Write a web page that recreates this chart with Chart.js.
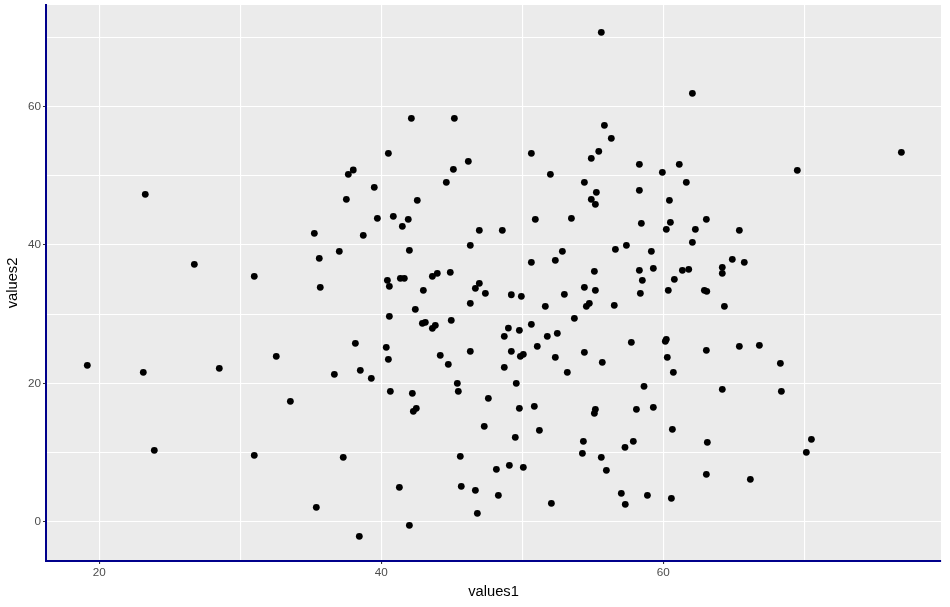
<!DOCTYPE html>
<html>
<head>
<meta charset="utf-8">
<script src="https://cdn.jsdelivr.net/npm/chart.js@4/dist/chart.umd.min.js"></script>
<style>
html,body{margin:0;padding:0;background:#fff;}
#wrap{width:950px;height:607px;}
</style>
</head>
<body>
<div id="wrap"><canvas id="c" width="950" height="607"></canvas></div>
<script>
const values1 = [23.26,26.74,30.99,19.15,23.12,28.51,32.55,23.90,30.99,42.13,45.18,40.50,46.17,38.01,37.66,45.11,39.50,44.61,55.60,62.06,55.82,56.31,50.64,55.42,54.89,58.30,61.13,51.99,59.93,54.40,61.63,55.25,58.30,69.50,76.88,37.52,42.55,39.72,40.85,41.91,41.49,35.25,38.72,46.95,48.58,46.31,37.02,41.99,35.60,44.89,43.97,43.62,40.43,41.35,41.63,40.57,35.67,46.95,46.67,42.98,47.38,46.31,42.41,40.57,42.91,43.12,44.96,43.83,43.62,38.16,40.35,46.31,44.18,40.50,44.75,36.67,38.51,39.29,54.89,55.18,60.43,50.92,53.48,63.05,58.44,60.50,60.21,62.27,62.06,56.60,57.38,52.84,59.15,50.64,52.34,55.11,58.30,59.29,61.35,61.80,64.18,64.18,58.51,60.78,54.40,55.18,49.22,49.93,52.98,58.37,60.35,62.91,63.08,51.63,54.54,54.75,56.52,53.69,49.01,49.79,50.64,48.72,51.77,52.48,51.06,57.73,60.14,60.21,49.22,49.86,50.07,52.34,54.40,55.67,60.28,63.05,48.72,53.19,60.71,65.39,64.89,65.74,64.33,65.39,66.81,68.30,33.55,40.64,42.20,45.39,45.46,47.59,42.27,42.48,47.30,37.30,45.60,48.16,41.28,45.67,46.67,48.30,35.39,46.81,41.99,38.44,49.57,58.63,49.79,50.85,55.18,55.11,58.09,59.29,51.21,49.50,60.64,63.12,54.33,54.26,57.28,57.87,55.60,49.08,50.07,55.96,63.05,52.06,57.02,57.30,58.87,60.57,64.18,68.37,70.50,70.14,66.17];
const values2 = [47.32,37.21,35.48,22.63,21.62,22.19,23.93,10.35,9.63,58.30,58.30,53.24,52.09,50.83,50.21,50.93,48.33,49.05,70.71,61.91,57.29,55.41,53.24,53.53,52.52,51.65,51.65,50.21,50.50,49.05,49.05,47.61,47.90,50.79,53.39,46.60,46.45,43.86,44.14,43.71,42.70,41.69,41.40,42.12,42.12,39.96,39.09,39.23,38.08,36.06,35.91,35.48,34.90,35.19,35.19,34.04,33.89,34.47,33.75,33.46,33.03,31.58,30.71,29.70,28.69,28.84,29.13,28.40,27.97,25.81,25.23,24.65,24.07,23.49,22.77,21.33,21.91,20.75,46.60,45.88,46.45,43.71,43.86,43.71,43.13,43.28,42.27,42.27,40.39,39.38,39.96,39.09,39.09,37.50,37.79,36.20,36.35,36.64,36.35,36.49,36.78,35.91,34.90,35.05,33.89,33.46,32.82,32.59,32.88,33.03,33.46,33.46,33.31,31.15,31.15,31.58,31.29,29.42,28.01,27.68,28.55,26.82,26.82,27.25,25.37,25.95,26.09,26.38,24.65,23.93,24.22,23.78,24.51,23.06,23.78,24.79,22.34,21.62,21.62,42.12,37.94,37.50,31.15,25.37,25.52,22.92,17.43,18.87,18.58,20.03,18.87,17.86,15.99,16.42,13.82,9.34,9.49,7.61,5.01,5.16,4.58,3.86,2.12,1.26,-0.48,-2.06,20.03,19.60,16.42,16.71,16.27,15.70,16.27,16.56,13.24,12.23,13.39,11.51,11.65,9.92,10.79,11.65,9.34,8.19,7.90,7.47,6.89,2.70,4.14,2.56,3.86,3.42,19.16,18.87,11.94,10.06,6.17];
const xGridValues = [20,30,40,50,60,70];
const yGridValues = [0,10,20,30,40,50,60,70];
const xTickLabels = [20,40,60];
const yTickLabels = [0,20,40,60];
const xTitle = 'values1';
const yTitle = 'values2';

const points = values1.map((v,i)=>({x:v,y:values2[i]}));

const panelBg = {
  id:'panelBg',
  beforeDraw(chart){
    const {ctx, chartArea:a} = chart;
    ctx.save();
    ctx.fillStyle='#ffffff';
    ctx.fillRect(0,0,chart.width,chart.height);
    ctx.fillStyle='#EBEBEB';
    ctx.fillRect(a.left,a.top,a.right-a.left,a.bottom-a.top);
    ctx.restore();
  }
};

const tickFont = {family:'"Liberation Sans", Arial, sans-serif', size:11.7};
const titleFont = {family:'"Liberation Sans", Arial, sans-serif', size:14.7};

new Chart(document.getElementById('c'),{
  type:'scatter',
  data:{datasets:[{data:points,backgroundColor:'#000',borderWidth:0,pointRadius:3.4,pointHoverRadius:3.4}]},
  options:{
    responsive:false,
    animation:false,
    events:[],
    layout:{padding:{top:5,right:9,left:0,bottom:0}},
    plugins:{legend:{display:false},tooltip:{enabled:false}},
    scales:{
      x:{
        type:'linear',min:16.22,max:79.69,
        afterBuildTicks:(s)=>{s.ticks=xGridValues.map(v=>({value:v}));},
        afterFit:(s)=>{s.height=46;s.paddingLeft=0;s.paddingRight=0;},
        ticks:{color:'#4D4D4D',font:tickFont,padding:2,maxRotation:0,autoSkip:false,
          callback:(v)=>xTickLabels.includes(v)?String(v):''},
        grid:{color:'#ffffff',lineWidth:1.1,tickLength:3,
          tickColor:(c)=>c.tick && xTickLabels.includes(c.tick.value)?'#333333':'rgba(0,0,0,0)'},
        border:{display:true,color:'#00008B',width:2},
        title:{display:true,text:xTitle,color:'#000',font:titleFont,padding:{top:2,bottom:6}}
      },
      y:{
        type:'linear',min:-5.63,max:74.66,
        afterBuildTicks:(s)=>{s.ticks=yGridValues.map(v=>({value:v}));},
        afterFit:(s)=>{s.width=46;s.paddingTop=0;s.paddingBottom=0;},
        ticks:{color:'#4D4D4D',font:tickFont,padding:2,autoSkip:false,
          callback:(v)=>yTickLabels.includes(v)?String(v):''},
        grid:{color:'#ffffff',lineWidth:1.1,tickLength:3,
          tickColor:(c)=>c.tick && yTickLabels.includes(c.tick.value)?'#333333':'rgba(0,0,0,0)'},
        border:{display:true,color:'#00008B',width:2},
        title:{display:true,text:yTitle,color:'#000',font:titleFont,padding:{top:4,bottom:2}}
      }
    }
  },
  plugins:[panelBg]
});
</script>
</body>
</html>
